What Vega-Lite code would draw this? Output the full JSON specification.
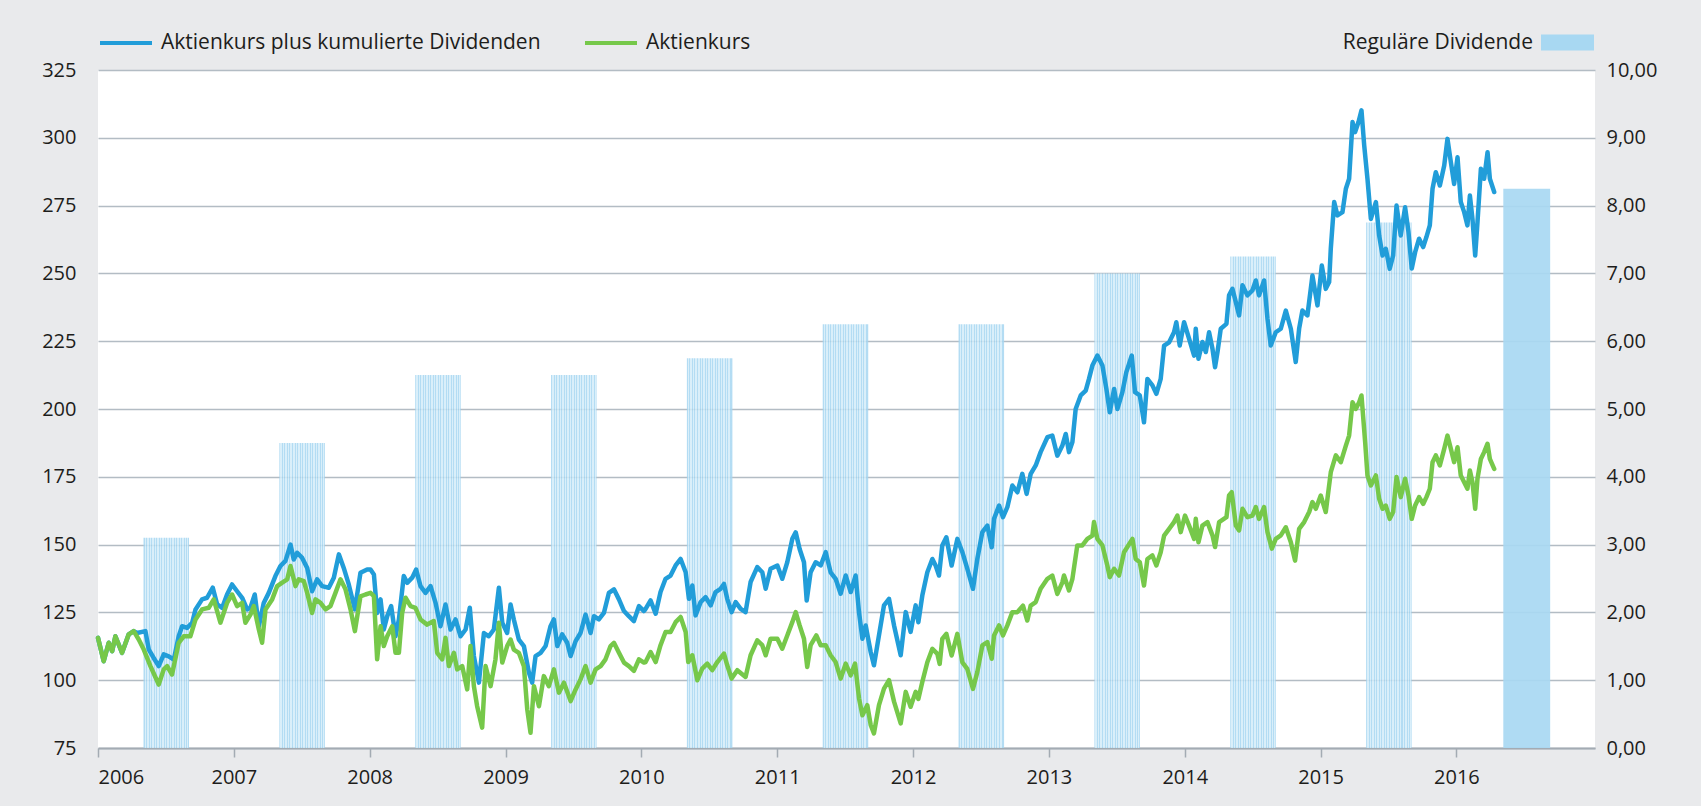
{
  "$schema": "https://vega.github.io/schema/vega-lite/v6.json",
  "width": 1497,
  "height": 678,
  "autosize": {"type": "none"},
  "padding": {"left": 98, "top": 70, "right": 106, "bottom": 58},
  "background": "#e9eaec",
  "config": {
    "font": "Open Sans",
    "view": {"fill": "#ffffff", "stroke": null},
    "axis": {"labelFont": "Open Sans", "labelFontSize": 20, "labelColor": "#1d1d1b"},
    "legend": {"labelFont": "Open Sans", "labelFontSize": 21, "labelColor": "#1d1d1b", "labelLimit": 600}
  },
  "datasets": {
    "dividenden": [
      {"jahr": 2006, "von": 2006.335, "bis": 2006.67, "dividende": 3.10},
      {"jahr": 2007, "von": 2007.335, "bis": 2007.67, "dividende": 4.50},
      {"jahr": 2008, "von": 2008.335, "bis": 2008.67, "dividende": 5.50},
      {"jahr": 2009, "von": 2009.335, "bis": 2009.67, "dividende": 5.50},
      {"jahr": 2010, "von": 2010.335, "bis": 2010.67, "dividende": 5.75},
      {"jahr": 2011, "von": 2011.335, "bis": 2011.67, "dividende": 6.25},
      {"jahr": 2012, "von": 2012.335, "bis": 2012.67, "dividende": 6.25},
      {"jahr": 2013, "von": 2013.335, "bis": 2013.67, "dividende": 7.00},
      {"jahr": 2014, "von": 2014.335, "bis": 2014.67, "dividende": 7.25},
      {"jahr": 2015, "von": 2015.335, "bis": 2015.67, "dividende": 7.75},
      {"jahr": 2016, "von": 2016.345, "bis": 2016.69, "dividende": 8.25}
    ],
    "gesamt": [
      {"t":2006.000,"v":115.6},{"t":2006.042,"v":107},{"t":2006.079,"v":113.8},{"t":2006.104,"v":110.7},{"t":2006.128,"v":116.2},{"t":2006.177,"v":110.1},{"t":2006.226,"v":116.9},{"t":2006.263,"v":118.1},{"t":2006.288,"v":117.4},{"t":2006.349,"v":118.1},{"t":2006.374,"v":111.3},{"t":2006.410,"v":108.2},{"t":2006.447,"v":105.2},{"t":2006.484,"v":109.5},{"t":2006.521,"v":108.8},{"t":2006.558,"v":107.6},{"t":2006.594,"v":116.2},{"t":2006.619,"v":119.9},{"t":2006.656,"v":119.3},{"t":2006.693,"v":121.2},{"t":2006.718,"v":126.1},{"t":2006.766,"v":129.8},{"t":2006.803,"v":130.4},{"t":2006.845,"v":134.1},{"t":2006.877,"v":128},{"t":2006.914,"v":126.7},{"t":2006.950,"v":131.6},{"t":2006.987,"v":135.3},
      {"t":2007.024,"v":132.8},{"t":2007.061,"v":130.4},{"t":2007.098,"v":126.1},{"t":2007.122,"v":126.7},{"t":2007.154,"v":131.6},{"t":2007.184,"v":119.9},{"t":2007.220,"v":128.5},{"t":2007.257,"v":132.2},{"t":2007.306,"v":138.4},{"t":2007.343,"v":142.1},{"t":2007.380,"v":144},{"t":2007.417,"v":150},{"t":2007.441,"v":144.5},{"t":2007.466,"v":147},{"t":2007.503,"v":145.1},{"t":2007.540,"v":141.4},{"t":2007.576,"v":132.8},{"t":2007.613,"v":137.2},{"t":2007.650,"v":134.7},{"t":2007.699,"v":134.1},{"t":2007.736,"v":137.8},{"t":2007.773,"v":146.4},{"t":2007.809,"v":141.4},{"t":2007.846,"v":135.3},{"t":2007.891,"v":126.1},{"t":2007.932,"v":139.6},{"t":2007.981,"v":140.8},
      {"t":2008.006,"v":140.8},{"t":2008.031,"v":139},{"t":2008.055,"v":124.8},{"t":2008.080,"v":129.8},{"t":2008.104,"v":118.7},{"t":2008.129,"v":123.6},{"t":2008.158,"v":127.3},{"t":2008.190,"v":116.2},{"t":2008.215,"v":122.4},{"t":2008.251,"v":138.4},{"t":2008.276,"v":135.9},{"t":2008.313,"v":137.8},{"t":2008.342,"v":140.8},{"t":2008.374,"v":134.7},{"t":2008.411,"v":132.2},{"t":2008.448,"v":134.7},{"t":2008.485,"v":128.5},{"t":2008.521,"v":119.9},{"t":2008.558,"v":127.9},{"t":2008.595,"v":118.7},{"t":2008.632,"v":122.4},{"t":2008.669,"v":116.2},{"t":2008.706,"v":118.7},{"t":2008.737,"v":126.7},{"t":2008.767,"v":108.9},{"t":2008.804,"v":99.1},{"t":2008.841,"v":117.4},{"t":2008.877,"v":116.2},{"t":2008.914,"v":118.7},{"t":2008.951,"v":134.1},{"t":2008.976,"v":121.2},
      {"t":2009.012,"v":117.4},{"t":2009.037,"v":127.9},{"t":2009.061,"v":122.4},{"t":2009.098,"v":115},{"t":2009.135,"v":112.6},{"t":2009.172,"v":102.8},{"t":2009.196,"v":99.1},{"t":2009.221,"v":108.9},{"t":2009.258,"v":110.1},{"t":2009.295,"v":112.6},{"t":2009.331,"v":119.9},{"t":2009.356,"v":122.4},{"t":2009.381,"v":112.6},{"t":2009.417,"v":116.9},{"t":2009.454,"v":113.8},{"t":2009.479,"v":108.9},{"t":2009.516,"v":114.4},{"t":2009.552,"v":117.4},{"t":2009.589,"v":124.2},{"t":2009.626,"v":117.4},{"t":2009.651,"v":123.6},{"t":2009.687,"v":122.4},{"t":2009.724,"v":124.8},{"t":2009.761,"v":132.2},{"t":2009.798,"v":133.5},{"t":2009.835,"v":129.8},{"t":2009.872,"v":125.5},{"t":2009.908,"v":123.6},{"t":2009.945,"v":121.8},{"t":2009.982,"v":127.3},
      {"t":2010.019,"v":125.5},{"t":2010.031,"v":126.3},{"t":2010.068,"v":129.4},{"t":2010.105,"v":124.5},{"t":2010.141,"v":132.5},{"t":2010.178,"v":137.4},{"t":2010.215,"v":138.6},{"t":2010.252,"v":142.3},{"t":2010.289,"v":144.7},{"t":2010.326,"v":139.8},{"t":2010.350,"v":130},{"t":2010.375,"v":134.9},{"t":2010.399,"v":123.9},{"t":2010.436,"v":128.8},{"t":2010.473,"v":130.6},{"t":2010.510,"v":127.6},{"t":2010.546,"v":132.5},{"t":2010.583,"v":133.7},{"t":2010.608,"v":135.5},{"t":2010.632,"v":130},{"t":2010.664,"v":125.1},{"t":2010.694,"v":128.8},{"t":2010.731,"v":126.3},{"t":2010.767,"v":125.1},{"t":2010.804,"v":136.2},{"t":2010.853,"v":141.7},{"t":2010.890,"v":139.8},{"t":2010.915,"v":133.7},{"t":2010.951,"v":141.1},
      {"t":2011.001,"v":142.3},{"t":2011.037,"v":137.4},{"t":2011.074,"v":143.5},{"t":2011.111,"v":152.1},{"t":2011.136,"v":154.5},{"t":2011.165,"v":148.4},{"t":2011.197,"v":143.5},{"t":2011.217,"v":129.4},{"t":2011.246,"v":139.8},{"t":2011.283,"v":143.5},{"t":2011.320,"v":142.3},{"t":2011.357,"v":147.2},{"t":2011.393,"v":139.8},{"t":2011.430,"v":137.4},{"t":2011.467,"v":131.9},{"t":2011.504,"v":138.6},{"t":2011.541,"v":132.5},{"t":2011.577,"v":138.6},{"t":2011.602,"v":125.1},{"t":2011.627,"v":115.3},{"t":2011.651,"v":120.2},{"t":2011.688,"v":110.4},{"t":2011.712,"v":105.5},{"t":2011.749,"v":116.5},{"t":2011.786,"v":127.6},{"t":2011.823,"v":130},{"t":2011.860,"v":120.2},{"t":2011.909,"v":109.2},{"t":2011.946,"v":125.1},{"t":2011.982,"v":117.8},
      {"t":2012.019,"v":127.6},{"t":2012.039,"v":121.4},{"t":2012.068,"v":131.2},{"t":2012.105,"v":139.8},{"t":2012.142,"v":144.7},{"t":2012.166,"v":142.3},{"t":2012.191,"v":138.6},{"t":2012.215,"v":149.7},{"t":2012.245,"v":152.7},{"t":2012.284,"v":142.3},{"t":2012.326,"v":152.1},{"t":2012.363,"v":147.2},{"t":2012.399,"v":141.1},{"t":2012.441,"v":133.7},{"t":2012.473,"v":144.7},{"t":2012.510,"v":154.6},{"t":2012.547,"v":157},{"t":2012.579,"v":149},{"t":2012.596,"v":159.5},{"t":2012.633,"v":164.4},{"t":2012.662,"v":160.1},{"t":2012.694,"v":163.8},{"t":2012.731,"v":171.8},{"t":2012.768,"v":169.3},{"t":2012.804,"v":176.1},{"t":2012.836,"v":168.7},{"t":2012.866,"v":176.1},{"t":2012.903,"v":179.2},{"t":2012.939,"v":184.1},{"t":2012.989,"v":189.6},
      {"t":2013.025,"v":190.2},{"t":2013.062,"v":182.8},{"t":2013.099,"v":186.5},{"t":2013.124,"v":190.8},{"t":2013.148,"v":184.1},{"t":2013.173,"v":187.8},{"t":2013.197,"v":200},{"t":2013.234,"v":205},{"t":2013.271,"v":206.8},{"t":2013.295,"v":211.1},{"t":2013.320,"v":216},{"t":2013.357,"v":219.7},{"t":2013.394,"v":216},{"t":2013.423,"v":207.4},{"t":2013.448,"v":198.8},{"t":2013.480,"v":207.4},{"t":2013.504,"v":200},{"t":2013.541,"v":206.2},{"t":2013.570,"v":213.6},{"t":2013.610,"v":219.7},{"t":2013.634,"v":206.2},{"t":2013.669,"v":205},{"t":2013.700,"v":195.1},{"t":2013.725,"v":211.1},{"t":2013.762,"v":208.7},{"t":2013.791,"v":205.6},{"t":2013.823,"v":211.1},{"t":2013.848,"v":223.4},{"t":2013.885,"v":224.6},{"t":2013.921,"v":228.3},{"t":2013.938,"v":232},{"t":2013.963,"v":223.4},{"t":2013.995,"v":232},
      {"t":2014.032,"v":225.9},{"t":2014.069,"v":219.7},{"t":2014.081,"v":229.6},{"t":2014.101,"v":218.5},{"t":2014.130,"v":224.7},{"t":2014.155,"v":221},{"t":2014.179,"v":228.3},{"t":2014.204,"v":222.2},{"t":2014.223,"v":215.4},{"t":2014.241,"v":221},{"t":2014.265,"v":229.6},{"t":2014.307,"v":231.4},{"t":2014.326,"v":241.9},{"t":2014.351,"v":244.3},{"t":2014.376,"v":239.4},{"t":2014.400,"v":234.5},{"t":2014.425,"v":245.6},{"t":2014.461,"v":241.9},{"t":2014.498,"v":243.7},{"t":2014.523,"v":247.4},{"t":2014.547,"v":241.9},{"t":2014.584,"v":247.4},{"t":2014.609,"v":233.3},{"t":2014.633,"v":223.4},{"t":2014.670,"v":228.3},{"t":2014.707,"v":229.6},{"t":2014.744,"v":236.3},{"t":2014.781,"v":229.6},{"t":2014.817,"v":217.3},{"t":2014.842,"v":229.6},{"t":2014.866,"v":236.3},{"t":2014.903,"v":234.5},{"t":2014.940,"v":249.2},{"t":2014.977,"v":238.2},
      {"t":2015.009,"v":252.9},{"t":2015.038,"v":244.3},{"t":2015.063,"v":246.8},{"t":2015.075,"v":259.1},{"t":2015.100,"v":276.3},{"t":2015.124,"v":271.4},{"t":2015.161,"v":272.6},{"t":2015.186,"v":281.2},{"t":2015.210,"v":284.9},{"t":2015.235,"v":305.8},{"t":2015.254,"v":302.1},{"t":2015.279,"v":305.8},{"t":2015.301,"v":310.1},{"t":2015.321,"v":297.2},{"t":2015.345,"v":284.9},{"t":2015.370,"v":270.1},{"t":2015.407,"v":276.3},{"t":2015.431,"v":264},{"t":2015.456,"v":256.6},{"t":2015.480,"v":259.1},{"t":2015.509,"v":251.7},{"t":2015.534,"v":256.6},{"t":2015.559,"v":275},{"t":2015.590,"v":264},{"t":2015.622,"v":274.4},{"t":2015.647,"v":265.2},{"t":2015.671,"v":251.8},{"t":2015.696,"v":257.8},{"t":2015.725,"v":262.8},{"t":2015.755,"v":259.7},{"t":2015.779,"v":263.4},{"t":2015.804,"v":267.7},{"t":2015.824,"v":281.2},{"t":2015.848,"v":287.3},{"t":2015.878,"v":282.4},{"t":2015.910,"v":289.8},{"t":2015.934,"v":299.6},{"t":2015.959,"v":291},{"t":2015.983,"v":283},
      {"t":2016.008,"v":292.8},{"t":2016.032,"v":276.3},{"t":2016.057,"v":272.6},{"t":2016.081,"v":267.7},{"t":2016.099,"v":278.7},{"t":2016.118,"v":270.1},{"t":2016.138,"v":256.6},{"t":2016.155,"v":268.9},{"t":2016.180,"v":288.6},{"t":2016.204,"v":284.9},{"t":2016.229,"v":294.7},{"t":2016.246,"v":284.9},{"t":2016.278,"v":280}
    ],
    "kurs": [
      {"t":2006.000,"v":115.6},{"t":2006.042,"v":107},{"t":2006.079,"v":113.8},{"t":2006.104,"v":110.7},{"t":2006.128,"v":116.2},{"t":2006.177,"v":110.1},{"t":2006.226,"v":116.9},{"t":2006.263,"v":118.1},{"t":2006.300,"v":115},{"t":2006.337,"v":111.3},{"t":2006.386,"v":105.2},{"t":2006.447,"v":98.4},{"t":2006.484,"v":104},{"t":2006.509,"v":105.2},{"t":2006.545,"v":102.1},{"t":2006.594,"v":113.8},{"t":2006.631,"v":116.2},{"t":2006.680,"v":116.2},{"t":2006.718,"v":122.4},{"t":2006.766,"v":126.1},{"t":2006.815,"v":126.7},{"t":2006.852,"v":129.8},{"t":2006.901,"v":121.2},{"t":2006.950,"v":128.5},{"t":2006.987,"v":131.6},
      {"t":2007.024,"v":127.3},{"t":2007.061,"v":128.5},{"t":2007.085,"v":121.2},{"t":2007.122,"v":124.2},{"t":2007.147,"v":127.3},{"t":2007.184,"v":118.7},{"t":2007.208,"v":113.8},{"t":2007.233,"v":126.1},{"t":2007.282,"v":129.8},{"t":2007.319,"v":134.7},{"t":2007.356,"v":136},{"t":2007.393,"v":137.2},{"t":2007.417,"v":142.1},{"t":2007.454,"v":134.7},{"t":2007.478,"v":137.2},{"t":2007.515,"v":136.5},{"t":2007.540,"v":132.2},{"t":2007.576,"v":124.8},{"t":2007.601,"v":129.8},{"t":2007.638,"v":128.5},{"t":2007.675,"v":126.1},{"t":2007.711,"v":127.3},{"t":2007.748,"v":132.2},{"t":2007.785,"v":137.2},{"t":2007.822,"v":133.5},{"t":2007.859,"v":126.1},{"t":2007.891,"v":118.1},{"t":2007.932,"v":130.9},{"t":2007.969,"v":131.6},
      {"t":2008.006,"v":132.2},{"t":2008.031,"v":131},{"t":2008.055,"v":107.7},{"t":2008.080,"v":119.9},{"t":2008.104,"v":112.6},{"t":2008.129,"v":116.2},{"t":2008.166,"v":119.9},{"t":2008.190,"v":110.1},{"t":2008.215,"v":110.1},{"t":2008.239,"v":124.8},{"t":2008.264,"v":130.4},{"t":2008.301,"v":127.3},{"t":2008.337,"v":126.7},{"t":2008.374,"v":122.4},{"t":2008.423,"v":120.5},{"t":2008.472,"v":121.8},{"t":2008.497,"v":110.1},{"t":2008.534,"v":107.7},{"t":2008.558,"v":115.6},{"t":2008.583,"v":105.2},{"t":2008.620,"v":110.1},{"t":2008.644,"v":104},{"t":2008.681,"v":105.2},{"t":2008.718,"v":96.6},{"t":2008.742,"v":112.6},{"t":2008.767,"v":97.8},{"t":2008.791,"v":90.4},{"t":2008.828,"v":82.5},{"t":2008.853,"v":105.2},{"t":2008.890,"v":97.8},{"t":2008.926,"v":107.7},{"t":2008.951,"v":121.2},{"t":2008.976,"v":106.5},
      {"t":2009.012,"v":112.6},{"t":2009.037,"v":115},{"t":2009.061,"v":111.3},{"t":2009.098,"v":110.1},{"t":2009.135,"v":105.2},{"t":2009.160,"v":89.2},{"t":2009.184,"v":80.6},{"t":2009.209,"v":97.8},{"t":2009.246,"v":90.4},{"t":2009.282,"v":101.5},{"t":2009.319,"v":97.8},{"t":2009.356,"v":104},{"t":2009.393,"v":95.4},{"t":2009.430,"v":99.1},{"t":2009.479,"v":92.3},{"t":2009.516,"v":96.6},{"t":2009.552,"v":100.3},{"t":2009.589,"v":105.2},{"t":2009.626,"v":99.1},{"t":2009.663,"v":104},{"t":2009.700,"v":105.2},{"t":2009.736,"v":107.7},{"t":2009.773,"v":112.6},{"t":2009.798,"v":113.8},{"t":2009.835,"v":110.1},{"t":2009.872,"v":106.5},{"t":2009.908,"v":105.2},{"t":2009.945,"v":103.4},{"t":2009.982,"v":107.7},
      {"t":2010.019,"v":106.5},{"t":2010.031,"v":106.7},{"t":2010.068,"v":110.4},{"t":2010.105,"v":106.7},{"t":2010.141,"v":112.9},{"t":2010.178,"v":117.8},{"t":2010.215,"v":117.8},{"t":2010.252,"v":121.4},{"t":2010.289,"v":123.3},{"t":2010.326,"v":117.8},{"t":2010.345,"v":106.7},{"t":2010.375,"v":109.2},{"t":2010.412,"v":100},{"t":2010.448,"v":104.3},{"t":2010.485,"v":106.1},{"t":2010.522,"v":103.7},{"t":2010.559,"v":106.7},{"t":2010.608,"v":109.8},{"t":2010.632,"v":105.5},{"t":2010.664,"v":100.6},{"t":2010.706,"v":103.7},{"t":2010.767,"v":101.2},{"t":2010.804,"v":109.2},{"t":2010.853,"v":114.7},{"t":2010.890,"v":112.9},{"t":2010.915,"v":109.2},{"t":2010.951,"v":115.3},
      {"t":2011.001,"v":115.3},{"t":2011.037,"v":111.6},{"t":2011.074,"v":116.5},{"t":2011.111,"v":121.4},{"t":2011.136,"v":125.1},{"t":2011.165,"v":120.2},{"t":2011.197,"v":115.3},{"t":2011.221,"v":104.9},{"t":2011.246,"v":112.9},{"t":2011.288,"v":116.5},{"t":2011.320,"v":112.9},{"t":2011.357,"v":112.9},{"t":2011.393,"v":109.2},{"t":2011.430,"v":106.7},{"t":2011.467,"v":100.6},{"t":2011.504,"v":106.1},{"t":2011.541,"v":101.8},{"t":2011.573,"v":106.1},{"t":2011.602,"v":93.3},{"t":2011.627,"v":87.1},{"t":2011.663,"v":90.8},{"t":2011.688,"v":83.5},{"t":2011.712,"v":80.4},{"t":2011.749,"v":90.8},{"t":2011.786,"v":96.9},{"t":2011.823,"v":100},{"t":2011.860,"v":92.1},{"t":2011.909,"v":84.1},{"t":2011.946,"v":95.7},{"t":2011.982,"v":90.2},
      {"t":2012.019,"v":95.7},{"t":2012.039,"v":93.1},{"t":2012.068,"v":99.3},{"t":2012.105,"v":106.6},{"t":2012.142,"v":111.6},{"t":2012.179,"v":109.7},{"t":2012.196,"v":106},{"t":2012.215,"v":115.2},{"t":2012.245,"v":117.1},{"t":2012.284,"v":109.1},{"t":2012.326,"v":117.1},{"t":2012.363,"v":106.6},{"t":2012.399,"v":104.2},{"t":2012.441,"v":96.8},{"t":2012.473,"v":103},{"t":2012.510,"v":112.8},{"t":2012.547,"v":114},{"t":2012.579,"v":107.9},{"t":2012.596,"v":116.5},{"t":2012.633,"v":120.2},{"t":2012.662,"v":116.5},{"t":2012.694,"v":120.2},{"t":2012.731,"v":125.1},{"t":2012.768,"v":125.1},{"t":2012.809,"v":127.5},{"t":2012.841,"v":122},{"t":2012.866,"v":127.5},{"t":2012.903,"v":128.8},{"t":2012.939,"v":133.7},{"t":2012.989,"v":137.4},
      {"t":2013.025,"v":138.6},{"t":2013.062,"v":131.8},{"t":2013.099,"v":136.1},{"t":2013.111,"v":138.6},{"t":2013.148,"v":133.1},{"t":2013.173,"v":137.4},{"t":2013.209,"v":149.7},{"t":2013.246,"v":149.7},{"t":2013.283,"v":152.1},{"t":2013.320,"v":153.3},{"t":2013.332,"v":158.3},{"t":2013.357,"v":152.1},{"t":2013.394,"v":149.7},{"t":2013.430,"v":142.3},{"t":2013.448,"v":138},{"t":2013.480,"v":141.1},{"t":2013.516,"v":138.6},{"t":2013.553,"v":147.2},{"t":2013.615,"v":152.1},{"t":2013.639,"v":144.7},{"t":2013.669,"v":143.5},{"t":2013.700,"v":134.9},{"t":2013.725,"v":144.7},{"t":2013.762,"v":146},{"t":2013.791,"v":142.3},{"t":2013.823,"v":147.2},{"t":2013.848,"v":153.3},{"t":2013.885,"v":155.8},{"t":2013.921,"v":158.3},{"t":2013.946,"v":160.7},{"t":2013.970,"v":154.6},
      {"t":2014.002,"v":160.7},{"t":2014.032,"v":157},{"t":2014.069,"v":152.1},{"t":2014.081,"v":159.5},{"t":2014.101,"v":150.9},{"t":2014.130,"v":157},{"t":2014.167,"v":158.3},{"t":2014.204,"v":153.4},{"t":2014.223,"v":149.1},{"t":2014.253,"v":158.3},{"t":2014.307,"v":160.1},{"t":2014.326,"v":168.1},{"t":2014.346,"v":169.3},{"t":2014.376,"v":157},{"t":2014.400,"v":155.2},{"t":2014.425,"v":163.2},{"t":2014.461,"v":160.1},{"t":2014.498,"v":160.7},{"t":2014.523,"v":163.8},{"t":2014.547,"v":159.5},{"t":2014.584,"v":163.8},{"t":2014.609,"v":154.6},{"t":2014.641,"v":148.5},{"t":2014.670,"v":152.1},{"t":2014.707,"v":153.4},{"t":2014.744,"v":156.4},{"t":2014.781,"v":150.9},{"t":2014.812,"v":144.1},{"t":2014.842,"v":155.8},{"t":2014.879,"v":158.3},{"t":2014.916,"v":162},{"t":2014.940,"v":165.7},{"t":2014.965,"v":163.2},
      {"t":2015.001,"v":168.1},{"t":2015.038,"v":162},{"t":2015.075,"v":176.7},{"t":2015.112,"v":182.9},{"t":2015.149,"v":180.4},{"t":2015.186,"v":186.5},{"t":2015.210,"v":190.2},{"t":2015.235,"v":202.5},{"t":2015.259,"v":200},{"t":2015.284,"v":202.5},{"t":2015.301,"v":205},{"t":2015.328,"v":187.8},{"t":2015.345,"v":175.5},{"t":2015.370,"v":171.8},{"t":2015.407,"v":175.5},{"t":2015.431,"v":166.9},{"t":2015.456,"v":163.2},{"t":2015.480,"v":164.4},{"t":2015.509,"v":159.5},{"t":2015.534,"v":162},{"t":2015.559,"v":174.9},{"t":2015.590,"v":167.5},{"t":2015.622,"v":174.3},{"t":2015.647,"v":168.1},{"t":2015.671,"v":159.5},{"t":2015.696,"v":164.4},{"t":2015.725,"v":167.5},{"t":2015.755,"v":165},{"t":2015.779,"v":167.5},{"t":2015.804,"v":170.6},{"t":2015.824,"v":180.4},{"t":2015.848,"v":182.9},{"t":2015.878,"v":179.2},{"t":2015.910,"v":185.3},{"t":2015.934,"v":190.2},{"t":2015.959,"v":185.3},{"t":2015.983,"v":180.4},
      {"t":2016.008,"v":185.9},{"t":2016.032,"v":175.5},{"t":2016.057,"v":173},{"t":2016.081,"v":170.6},{"t":2016.099,"v":177.3},{"t":2016.118,"v":173},{"t":2016.138,"v":163.2},{"t":2016.155,"v":174.3},{"t":2016.180,"v":181.6},{"t":2016.204,"v":184.1},{"t":2016.229,"v":187.2},{"t":2016.246,"v":181.6},{"t":2016.278,"v":177.9}
    ]
  },
  "layer": [
    {
      "data": {"name": "dividenden"},
      "mark": {"type": "rect"},
      "encoding": {
        "x": {"field": "von", "type": "quantitative", "scale": {"domain": [2006, 2017.02], "nice": false, "zero": false},
              "axis": {"title": null, "values": [2006,2007,2008,2009,2010,2011,2012,2013,2014,2015,2016], "format": "d", "grid": false, "domainColor": "#a3abb3", "domainWidth": 2, "tickColor": "#a3abb3", "tickWidth": 1.5, "tickSize": 9, "labelPadding": 10}},
        "x2": {"field": "bis"},
        "y": {"field": "dividende", "type": "quantitative", "scale": {"domain": [0, 10], "nice": false, "zero": true},
              "axis": {"orient": "right", "title": null, "values": [0,1,2,3,4,5,6,7,8,9,10], "labelExpr": "replace(format(datum.value, '.2f'), '.', ',')", "grid": false, "domain": false, "ticks": false, "labelPadding": 11}},
        "y2": {"datum": 0},
        "fill": {"datum": "Reguläre Dividende", "type": "nominal", "scale": {"range": ["#a8d8f2"]},
                 "legend": {"title": null, "orient": "none", "legendX": 1443, "legendY": -54, "symbolType": "M-1,-0.3L1,-0.3L1,0.3L-1,0.3Z", "symbolSize": 2809, "symbolStrokeWidth": 0, "symbolOpacity": 1, "labelAlign": "right", "labelOffset": -61, "labelLimit": 600},
                 "condition": {"test": "datum.jahr < 2016", "value": {"gradient": "linear", "x1": 0, "y1": 0, "x2": 1, "y2": 0, "stops": [
                   {"offset": 0, "color": "#a6d6f1"}, {"offset": 0.022, "color": "#a6d6f1"}, {"offset": 0.022, "color": "#d3ecf9"}, {"offset": 0.0556, "color": "#d3ecf9"},
                   {"offset": 0.0556, "color": "#a6d6f1"}, {"offset": 0.0776, "color": "#a6d6f1"}, {"offset": 0.0776, "color": "#d3ecf9"}, {"offset": 0.1111, "color": "#d3ecf9"},
                   {"offset": 0.1111, "color": "#a6d6f1"}, {"offset": 0.1331, "color": "#a6d6f1"}, {"offset": 0.1331, "color": "#d3ecf9"}, {"offset": 0.1667, "color": "#d3ecf9"},
                   {"offset": 0.1667, "color": "#a6d6f1"}, {"offset": 0.1887, "color": "#a6d6f1"}, {"offset": 0.1887, "color": "#d3ecf9"}, {"offset": 0.2222, "color": "#d3ecf9"},
                   {"offset": 0.2222, "color": "#a6d6f1"}, {"offset": 0.2442, "color": "#a6d6f1"}, {"offset": 0.2442, "color": "#d3ecf9"}, {"offset": 0.2778, "color": "#d3ecf9"},
                   {"offset": 0.2778, "color": "#a6d6f1"}, {"offset": 0.2998, "color": "#a6d6f1"}, {"offset": 0.2998, "color": "#d3ecf9"}, {"offset": 0.3333, "color": "#d3ecf9"},
                   {"offset": 0.3333, "color": "#a6d6f1"}, {"offset": 0.3553, "color": "#a6d6f1"}, {"offset": 0.3553, "color": "#d3ecf9"}, {"offset": 0.3889, "color": "#d3ecf9"},
                   {"offset": 0.3889, "color": "#a6d6f1"}, {"offset": 0.4109, "color": "#a6d6f1"}, {"offset": 0.4109, "color": "#d3ecf9"}, {"offset": 0.4444, "color": "#d3ecf9"},
                   {"offset": 0.4444, "color": "#a6d6f1"}, {"offset": 0.4664, "color": "#a6d6f1"}, {"offset": 0.4664, "color": "#d3ecf9"}, {"offset": 0.5, "color": "#d3ecf9"},
                   {"offset": 0.5, "color": "#a6d6f1"}, {"offset": 0.522, "color": "#a6d6f1"}, {"offset": 0.522, "color": "#d3ecf9"}, {"offset": 0.5556, "color": "#d3ecf9"},
                   {"offset": 0.5556, "color": "#a6d6f1"}, {"offset": 0.5776, "color": "#a6d6f1"}, {"offset": 0.5776, "color": "#d3ecf9"}, {"offset": 0.6111, "color": "#d3ecf9"},
                   {"offset": 0.6111, "color": "#a6d6f1"}, {"offset": 0.6331, "color": "#a6d6f1"}, {"offset": 0.6331, "color": "#d3ecf9"}, {"offset": 0.6667, "color": "#d3ecf9"},
                   {"offset": 0.6667, "color": "#a6d6f1"}, {"offset": 0.6887, "color": "#a6d6f1"}, {"offset": 0.6887, "color": "#d3ecf9"}, {"offset": 0.7222, "color": "#d3ecf9"},
                   {"offset": 0.7222, "color": "#a6d6f1"}, {"offset": 0.7442, "color": "#a6d6f1"}, {"offset": 0.7442, "color": "#d3ecf9"}, {"offset": 0.7778, "color": "#d3ecf9"},
                   {"offset": 0.7778, "color": "#a6d6f1"}, {"offset": 0.7998, "color": "#a6d6f1"}, {"offset": 0.7998, "color": "#d3ecf9"}, {"offset": 0.8333, "color": "#d3ecf9"},
                   {"offset": 0.8333, "color": "#a6d6f1"}, {"offset": 0.8553, "color": "#a6d6f1"}, {"offset": 0.8553, "color": "#d3ecf9"}, {"offset": 0.8889, "color": "#d3ecf9"},
                   {"offset": 0.8889, "color": "#a6d6f1"}, {"offset": 0.9109, "color": "#a6d6f1"}, {"offset": 0.9109, "color": "#d3ecf9"}, {"offset": 0.9444, "color": "#d3ecf9"},
                   {"offset": 0.9444, "color": "#a6d6f1"}, {"offset": 0.9664, "color": "#a6d6f1"}, {"offset": 0.9664, "color": "#d3ecf9"}, {"offset": 0.978, "color": "#d3ecf9"},
                   {"offset": 0.978, "color": "#a6d6f1"}, {"offset": 1, "color": "#a6d6f1"}
                 ]}}},
        "fillOpacity": {"condition": {"test": "datum.jahr == 2016", "value": 0.92}, "value": 0.85}
      }
    },
    {
      "layer": [
        {
          "data": {"name": "gesamt"},
          "mark": {"type": "line", "strokeWidth": 4.5, "strokeJoin": "round", "strokeCap": "round"},
          "encoding": {
            "x": {"field": "t", "type": "quantitative", "scale": {"domain": [2006, 2017.02], "nice": false, "zero": false}, "axis": {"title": null, "values": [2006,2007,2008,2009,2010,2011,2012,2013,2014,2015,2016], "format": "d", "grid": false, "domainColor": "#a3abb3", "domainWidth": 2, "tickColor": "#a3abb3", "tickWidth": 1.5, "tickSize": 9, "labelPadding": 10}},
            "y": {"field": "v", "type": "quantitative", "scale": {"domain": [75, 325], "nice": false, "zero": false},
                  "axis": {"orient": "left", "title": null, "values": [75,100,125,150,175,200,225,250,275,300,325], "grid": true, "gridColor": "#b3bcc4", "gridWidth": 1.5, "domain": false, "ticks": false, "labelPadding": 22}},
            "stroke": {"datum": "Aktienkurs plus kumulierte Dividenden", "type": "nominal",
                       "scale": {"domain": ["Aktienkurs plus kumulierte Dividenden", "Aktienkurs"], "range": ["#219dd9", "#76c84a"]},
                       "legend": {"title": null, "orient": "top", "direction": "horizontal", "symbolType": "stroke", "symbolSize": 2704, "symbolStrokeWidth": 4, "labelOffset": 7, "columnPadding": 42, "clipHeight": 24, "offset": 15, "labelLimit": 600}}
          }
        },
        {
          "data": {"name": "kurs"},
          "mark": {"type": "line", "strokeWidth": 4.5, "strokeJoin": "round", "strokeCap": "round"},
          "encoding": {
            "x": {"field": "t", "type": "quantitative", "scale": {"domain": [2006, 2017.02], "nice": false, "zero": false}, "axis": {"title": null, "values": [2006,2007,2008,2009,2010,2011,2012,2013,2014,2015,2016], "format": "d", "grid": false, "domainColor": "#a3abb3", "domainWidth": 2, "tickColor": "#a3abb3", "tickWidth": 1.5, "tickSize": 9, "labelPadding": 10}},
            "y": {"field": "v", "type": "quantitative", "scale": {"domain": [75, 325], "nice": false, "zero": false},
                  "axis": {"orient": "left", "title": null, "values": [75,100,125,150,175,200,225,250,275,300,325], "grid": true, "gridColor": "#b3bcc4", "gridWidth": 1.5, "domain": false, "ticks": false, "labelPadding": 22}},
            "stroke": {"datum": "Aktienkurs", "type": "nominal",
                       "scale": {"domain": ["Aktienkurs plus kumulierte Dividenden", "Aktienkurs"], "range": ["#219dd9", "#76c84a"]},
                       "legend": {"title": null, "orient": "top", "direction": "horizontal", "symbolType": "stroke", "symbolSize": 2704, "symbolStrokeWidth": 4, "labelOffset": 7, "columnPadding": 42, "clipHeight": 24, "offset": 15, "labelLimit": 600}}
          }
        }
      ]
    }
  ],
  "resolve": {"scale": {"y": "independent"}}
}
